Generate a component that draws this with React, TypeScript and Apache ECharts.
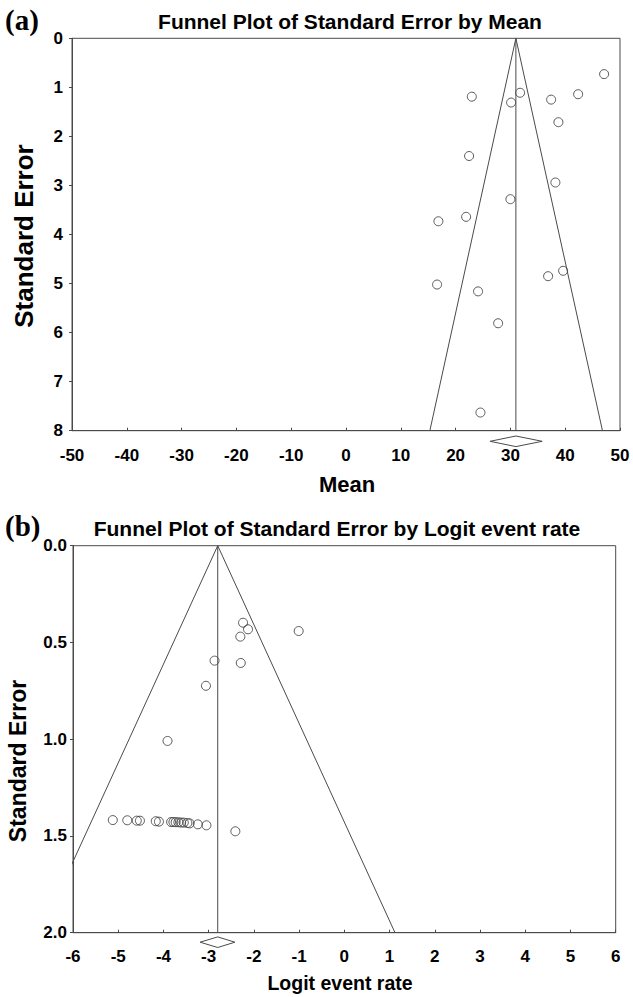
import React, { useEffect, useRef } from "react";
import * as echarts from "echarts";

// ---- Panel (a): Funnel plot of standard error by mean ----
const pointsA: [number, number][] = [
  [47.1, 0.73], [22.96, 1.19], [31.77, 1.11], [30.13, 1.31], [37.43, 1.25],
  [42.36, 1.14], [38.76, 1.71], [22.46, 2.40], [38.21, 2.94], [30.0, 3.28],
  [16.86, 3.73], [21.92, 3.64], [16.62, 5.02], [24.1, 5.16], [36.88, 4.85],
  [39.62, 4.74], [27.76, 5.81], [24.53, 7.63],
];
const funnelA: [number, number][] = [[15.3, 8], [31.0, 0], [46.8, 8]];
const meanLineA: [number, number][] = [[31.0, 0], [31.0, 8]];
const diamondA = [26.3, 31.0, 35.8, 8];

// ---- Panel (b): Funnel plot of standard error by logit event rate ----
const pointsB: [number, number][] = [
  [-2.24, 0.398], [-2.13, 0.432], [-2.30, 0.470], [-1.01, 0.441], [-2.87, 0.594],
  [-2.29, 0.606], [-3.06, 0.724], [-3.91, 1.009],
  [-5.12, 1.418], [-4.80, 1.419], [-4.59, 1.421], [-4.52, 1.421], [-4.17, 1.424],
  [-4.10, 1.426], [-3.83, 1.428], [-3.78, 1.428], [-3.73, 1.429], [-3.67, 1.429],
  [-3.61, 1.431], [-3.55, 1.431], [-3.47, 1.433], [-3.42, 1.435], [-3.24, 1.440],
  [-3.05, 1.445], [-2.41, 1.476],
];
const funnelB: [number, number][] = [[-6.72, 2], [-2.8, 0], [1.12, 2]];
const meanLineB: [number, number][] = [[-2.8, 0], [-2.8, 2]];
const diamondB = [-3.19, -2.8, -2.42, 2];

const titleA = "Funnel Plot of Standard Error by Mean";
const titleB = "Funnel Plot of Standard Error by Logit event rate";

const LINE = "#4a4a4a";
const SANS = "'Liberation Sans', Arial, sans-serif";
const SERIF = "'Liberation Serif', 'Times New Roman', serif";

const labelStyle = { color: "#000", fontFamily: SANS, fontWeight: "bold" as const, fontSize: 17 };

function diamondRenderer(offset: number, half: number) {
  return (_params: any, api: any) => {
    const base = api.value(3);
    const lo = api.coord([api.value(0), base]);
    const mid = api.coord([api.value(1), base]);
    const hi = api.coord([api.value(2), base]);
    const cy = mid[1] + offset;
    return {
      type: "polygon",
      shape: { points: [[lo[0], cy], [mid[0], cy - half], [hi[0], cy], [mid[0], cy + half]] },
      style: { fill: "none", stroke: LINE, lineWidth: 1 },
    };
  };
}

export default function App() {
  const ref = useRef<HTMLDivElement>(null);
  useEffect(() => {
    if (!ref.current) return;
    const chart = echarts.init(ref.current, undefined, { renderer: "svg" });
    const axisLine = { show: true, onZero: false, lineStyle: { color: LINE, width: 1 } };
    const option: any = {
      animation: false,
      backgroundColor: "#fff",
      grid: [
        { left: 72, top: 38.3, width: 548, height: 392.4, show: true, borderColor: LINE, borderWidth: 1, containLabel: false },
        { left: 73, top: 545.7, width: 542.7, height: 387, show: true, borderColor: LINE, borderWidth: 1, containLabel: false },
      ],
      xAxis: [
        {
          gridIndex: 0, type: "value", min: -50, max: 50, interval: 10, axisLine, splitLine: { show: false },
          axisTick: { show: true, inside: true, length: 3, lineStyle: { color: LINE } },
          axisLabel: { ...labelStyle, margin: 16 },
        },
        {
          gridIndex: 1, type: "value", min: -6, max: 6, interval: 1, axisLine, splitLine: { show: false },
          axisTick: { show: true, inside: true, length: 3, lineStyle: { color: LINE } },
          axisLabel: { ...labelStyle, margin: 15 },
        },
      ],
      yAxis: [
        {
          gridIndex: 0, type: "value", inverse: true, min: 0, max: 8, interval: 1, axisLine, splitLine: { show: false },
          axisTick: { show: true, inside: false, length: 3, lineStyle: { color: LINE } },
          axisLabel: { ...labelStyle, margin: 9 },
        },
        {
          gridIndex: 1, type: "value", inverse: true, min: 0, max: 2, interval: 0.5, axisLine, splitLine: { show: false },
          axisTick: { show: true, inside: false, length: 3, lineStyle: { color: LINE } },
          axisLabel: { ...labelStyle, margin: 6, formatter: (v: number) => v.toFixed(1) },
        },
      ],
      series: [
        {
          type: "line", xAxisIndex: 0, yAxisIndex: 0, data: funnelA, symbol: "none",
          lineStyle: { color: LINE, width: 1 }, silent: true,
        },
        {
          type: "line", xAxisIndex: 0, yAxisIndex: 0, data: meanLineA, symbol: "none",
          lineStyle: { color: LINE, width: 1 }, silent: true,
        },
        {
          type: "scatter", xAxisIndex: 0, yAxisIndex: 0, data: pointsA, symbol: "circle", symbolSize: 9,
          itemStyle: { color: "rgba(0,0,0,0)", borderColor: "#333", borderWidth: 1 },
        },
        {
          type: "custom", xAxisIndex: 0, yAxisIndex: 0, data: [diamondA], clip: false,
          encode: { x: [0, 1, 2], y: 3 }, renderItem: diamondRenderer(10.6, 5.3),
        },
        {
          type: "line", xAxisIndex: 1, yAxisIndex: 1, data: funnelB, symbol: "none", clip: true,
          lineStyle: { color: LINE, width: 1 }, silent: true,
        },
        {
          type: "line", xAxisIndex: 1, yAxisIndex: 1, data: meanLineB, symbol: "none",
          lineStyle: { color: LINE, width: 1 }, silent: true,
        },
        {
          type: "scatter", xAxisIndex: 1, yAxisIndex: 1, data: pointsB, symbol: "circle", symbolSize: 9,
          itemStyle: { color: "rgba(0,0,0,0)", borderColor: "#333", borderWidth: 1 },
        },
        {
          type: "custom", xAxisIndex: 1, yAxisIndex: 1, data: [diamondB], clip: false,
          encode: { x: [0, 1, 2], y: 3 }, renderItem: diamondRenderer(9.5, 5.3),
        },
      ],
      graphic: [
        { type: "text", x: 5, y: 20, style: { text: "(a)", font: `bold 29px ${SERIF}`, fill: "#000", verticalAlign: "middle" } },
        { type: "text", x: 350, y: 21, style: { text: titleA, font: `bold 21px ${SANS}`, fill: "#000", align: "center", verticalAlign: "middle" } },
        { type: "text", x: 347, y: 484, style: { text: "Mean", font: `bold 22px ${SANS}`, fill: "#000", align: "center", verticalAlign: "middle" } },
        { type: "text", x: 24, y: 236, rotation: Math.PI / 2, style: { text: "Standard Error", font: `bold 26px ${SANS}`, fill: "#000", align: "center", verticalAlign: "middle" } },
        { type: "text", x: 5, y: 526, style: { text: "(b)", font: `bold 29px ${SERIF}`, fill: "#000", verticalAlign: "middle" } },
        { type: "text", x: 337, y: 528, style: { text: titleB, font: `bold 21px ${SANS}`, fill: "#000", align: "center", verticalAlign: "middle" } },
        { type: "text", x: 340, y: 983, style: { text: "Logit event rate", font: `bold 19.5px ${SANS}`, fill: "#000", align: "center", verticalAlign: "middle" } },
        { type: "text", x: 18, y: 761, rotation: Math.PI / 2, style: { text: "Standard Error", font: `bold 23px ${SANS}`, fill: "#000", align: "center", verticalAlign: "middle" } },
      ],
    };
    chart.setOption(option);
    return () => chart.dispose();
  }, []);
  return (
    <div
      ref={ref}
      style={{ position: "absolute", left: 0, top: 0, width: 633, height: 997 }}
    />
  );
}
